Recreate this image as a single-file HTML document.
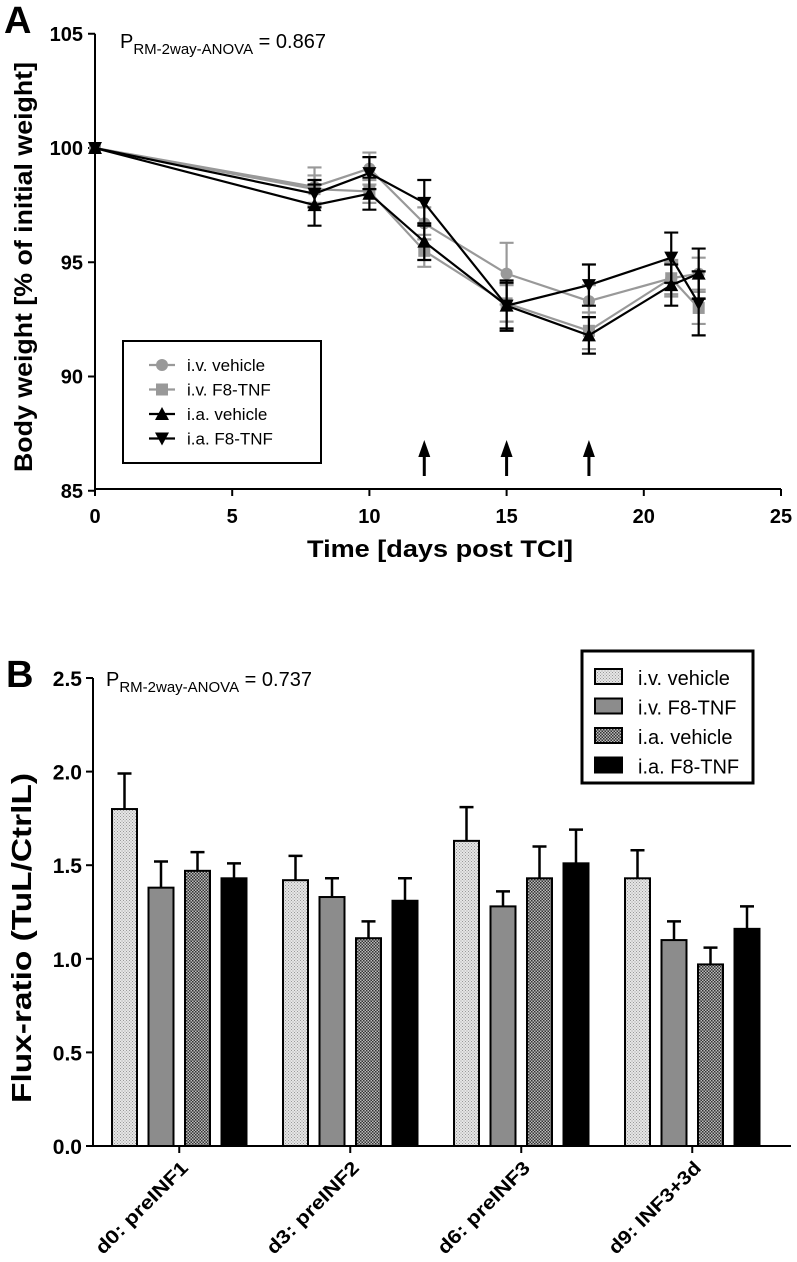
<!DOCTYPE html>
<html><head><meta charset="utf-8"><style>
body{margin:0;background:#fff}
svg{display:block;font-family:"Liberation Sans",Arial,sans-serif}
</style></head><body>
<svg id="s" width="797" height="1262" viewBox="0 0 797 1262" xmlns="http://www.w3.org/2000/svg">
<defs>
<pattern id="pLight" width="3" height="3" patternUnits="userSpaceOnUse"><rect width="3" height="3" fill="#e6e6e6"/><rect width="1" height="1" fill="#999"/><rect x="1.5" y="1.5" width="1" height="1" fill="#999"/></pattern>
<pattern id="pDark" width="3" height="3" patternUnits="userSpaceOnUse"><rect width="3" height="3" fill="#bbb"/><rect width="1.5" height="1.5" fill="#333"/><rect x="1.5" y="1.5" width="1.5" height="1.5" fill="#333"/></pattern>
</defs>
<text x="4" y="33" font-size="38" font-weight="bold">A</text>
<text x="6" y="687" font-size="38" font-weight="bold">B</text>
<text x="120" y="48" font-size="20">P<tspan font-size="15" dy="6">RM-2way-ANOVA</tspan><tspan dy="-6"> = 0.867</tspan></text>
<text x="106" y="686" font-size="20">P<tspan font-size="15" dy="6">RM-2way-ANOVA</tspan><tspan dy="-6"> = 0.737</tspan></text>
<g id="A"></g><g id="B"></g>
</svg>
<script>
// Panel A data
const daysA = [0, 8, 10, 12, 15, 18, 21, 22];
const ivVehicle = [100, 98.3, 99.1, 96.7, 94.5, 93.3, 94.3, 94.5];
const ivVehicleErr = [0, 0.85, 0.7, 0.7, 1.35, 0.7, 0.8, 0.7];
const ivF8 = [100, 98.2, 98.1, 95.5, 93.2, 92.0, 94.3, 93.0];
const ivF8Err = [0, 0.6, 0.5, 0.7, 0.8, 0.8, 0.7, 0.7];
const iaVehicle = [100, 97.5, 98.0, 95.9, 93.1, 91.8, 94.0, 94.5];
const iaVehicleErr = [0, 0.9, 0.7, 0.8, 1.0, 0.8, 0.9, 1.1];
const iaF8 = [100, 98.0, 98.9, 97.6, 93.1, 94.0, 95.2, 93.2];
const iaF8Err = [0, 0.6, 0.7, 1.0, 1.1, 0.9, 1.1, 1.4];
const xTicksA = [0, 5, 10, 15, 20, 25];
const yTicksA = [85, 90, 95, 100, 105];
const arrowDays = [12, 15, 18];
// Panel B data
const groupsB = ["d0: preINF1", "d3: preINF2", "d6: preINF3", "d9: INF3+3d"];
const barIvVehicle = [1.80, 1.42, 1.63, 1.43];
const barIvVehicleErr = [0.19, 0.13, 0.18, 0.15];
const barIvF8 = [1.38, 1.33, 1.28, 1.10];
const barIvF8Err = [0.14, 0.10, 0.08, 0.10];
const barIaVehicle = [1.47, 1.11, 1.43, 0.97];
const barIaVehicleErr = [0.10, 0.09, 0.17, 0.09];
const barIaF8 = [1.43, 1.31, 1.51, 1.16];
const barIaF8Err = [0.08, 0.12, 0.18, 0.12];
const yTicksB = ["0.0", "0.5", "1.0", "1.5", "2.0", "2.5"];

const NS = "http://www.w3.org/2000/svg";
function mk(parent, tag, attrs, text) {
  const e = document.createElementNS(NS, tag);
  for (const k in attrs) e.setAttribute(k, attrs[k]);
  if (text !== undefined) e.textContent = text;
  parent.appendChild(e);
  return e;
}
// ---------- Panel A ----------
const A = document.getElementById("A");
const xA = d => 95 + d * 27.44;
const yA = v => 148 + (100 - v) * 22.85;
let ax = mk(A, "line", {x1: 95, y1: yA(105), x2: 95, y2: 489, stroke: "#000", "stroke-width": 2});


ax = mk(A, "line", {x1: 94, y1: 489, x2: xA(25), y2: 489, stroke: "#000", "stroke-width": 2});


yTicksA.forEach(v => {
  mk(A, "line", {x1: 88, y1: yA(v), x2: 95, y2: yA(v), stroke: "#000", "stroke-width": 2});
  const t = mk(A, "text", {x: 83, y: yA(v) + 7, "font-size": 20, "font-weight": "bold", "text-anchor": "end"}, v);
  
  
});
xTicksA.forEach(v => {
  mk(A, "line", {x1: xA(v), y1: 489, x2: xA(v), y2: 496, stroke: "#000", "stroke-width": 2});
  const t = mk(A, "text", {x: xA(v), y: 523, "font-size": 20, "font-weight": "bold", "text-anchor": "middle"}, v);
  
  
});
let t = mk(A, "text", {x: 307, y: 557, "font-size": 24, "font-weight": "bold", textLength: 266, lengthAdjust: "spacingAndGlyphs"}, "Time [days post TCI]");


t = mk(A, "text", {x: 0, y: 0, "font-size": 25, "font-weight": "bold", "text-anchor": "middle", textLength: 410, lengthAdjust: "spacingAndGlyphs", transform: "translate(32,267) rotate(-90)"}, "Body weight [% of initial weight]");


arrowDays.forEach(d => {
  const g = mk(A, "g", {});
  
  
  mk(g, "line", {x1: xA(d), y1: 476, x2: xA(d), y2: 452, stroke: "#000", "stroke-width": 3});
  mk(g, "polygon", {points: `${xA(d)-6},457 ${xA(d)+6},457 ${xA(d)},440`, fill: "#000"});
});
function marker(g, type, x, y, c) {
  if (type === "circle") mk(g, "circle", {cx: x, cy: y, r: 6, fill: c});
  else if (type === "square") mk(g, "rect", {x: x - 6, y: y - 6, width: 12, height: 12, fill: c});
  else if (type === "up") mk(g, "polygon", {points: `${x-7},${y+6} ${x+7},${y+6} ${x},${y-7}`, fill: c});
  else mk(g, "polygon", {points: `${x-7},${y-6} ${x+7},${y-6} ${x},${y+7}`, fill: c});
}
const seriesA = [
  {name: "iv-vehicle", vals: ivVehicle, err: ivVehicleErr, c: "#999", m: "circle", label: "i.v. vehicle"},
  {name: "iv-f8-tnf", vals: ivF8, err: ivF8Err, c: "#999", m: "square", label: "i.v. F8-TNF"},
  {name: "ia-vehicle", vals: iaVehicle, err: iaVehicleErr, c: "#000", m: "up", label: "i.a. vehicle"},
  {name: "ia-f8-tnf", vals: iaF8, err: iaF8Err, c: "#000", m: "down", label: "i.a. F8-TNF"}
];
seriesA.forEach(s => {
  const g = mk(A, "g", {});
  
  
  daysA.forEach((d, i) => {
    if (!s.err[i]) return;
    const x = xA(d), y1 = yA(s.vals[i] + s.err[i]), y2 = yA(s.vals[i] - s.err[i]);
    mk(g, "path", {d: `M${x},${y1}V${y2}M${x-7},${y1}H${x+7}M${x-7},${y2}H${x+7}`, stroke: s.c, "stroke-width": 2.2, fill: "none"});
  });
  mk(g, "polyline", {points: daysA.map((d, i) => xA(d) + "," + yA(s.vals[i])).join(" "), stroke: s.c, "stroke-width": 2.2, fill: "none"});
  daysA.forEach((d, i) => marker(g, s.m, xA(d), yA(s.vals[i]), s.c));
});
const legA = mk(A, "g", {});


mk(legA, "rect", {x: 123, y: 341, width: 198, height: 122, fill: "#fff", stroke: "#000", "stroke-width": 2});
seriesA.forEach((s, i) => {
  const y = 365 + i * 24.5;
  const g = mk(legA, "g", {});
  
  
  mk(g, "line", {x1: 149, y1: y, x2: 175, y2: y, stroke: s.c, "stroke-width": 2.2});
  marker(g, s.m, 162, y, s.c);
  mk(g, "text", {x: 187, y: y + 6, "font-size": 17}, s.label);
});
// ---------- Panel B ----------
const B = document.getElementById("B");
const yB = v => 1146 - v * 187.2;
const xB = (gi, bi) => 112 + gi * 171 + bi * 36.5;
ax = mk(B, "line", {x1: 93, y1: 678, x2: 93, y2: 1146, stroke: "#000", "stroke-width": 2});


ax = mk(B, "line", {x1: 92, y1: 1146, x2: 791, y2: 1146, stroke: "#000", "stroke-width": 2});


yTicksB.forEach(v => {
  mk(B, "line", {x1: 86, y1: yB(+v), x2: 93, y2: yB(+v), stroke: "#000", "stroke-width": 2});
  const t = mk(B, "text", {x: 82, y: yB(+v) + 8, "font-size": 21, "font-weight": "bold", "text-anchor": "end"}, v);
  
  
});
t = mk(B, "text", {x: 0, y: 0, "font-size": 28, "font-weight": "bold", "text-anchor": "middle", textLength: 330, lengthAdjust: "spacingAndGlyphs", transform: "translate(31,938) rotate(-90)"}, "Flux-ratio (TuL/CtrlL)");


const seriesB = [
  {name: "iv-vehicle", vals: barIvVehicle, err: barIvVehicleErr, fill: "url(#pLight)", label: "i.v. vehicle"},
  {name: "iv-f8-tnf", vals: barIvF8, err: barIvF8Err, fill: "#8c8c8c", label: "i.v. F8-TNF"},
  {name: "ia-vehicle", vals: barIaVehicle, err: barIaVehicleErr, fill: "url(#pDark)", label: "i.a. vehicle"},
  {name: "ia-f8-tnf", vals: barIaF8, err: barIaF8Err, fill: "#000", label: "i.a. F8-TNF"}
];
groupsB.forEach((gname, gi) => {
  const cx = xB(gi, 1.5) + 12.5;
  mk(B, "line", {x1: cx, y1: 1146, x2: cx, y2: 1153, stroke: "#000", "stroke-width": 2});
  const t = mk(B, "text", {x: 0, y: 0, "font-size": 19, "font-weight": "bold", "text-anchor": "end", textLength: 122, lengthAdjust: "spacingAndGlyphs", transform: `translate(${cx+10},1169) rotate(-45)`}, gname);
  
  
  seriesB.forEach((s, bi) => {
    const x = xB(gi, bi), v = s.vals[gi];
    const g = mk(B, "g", {});
    
    
    const xc = x + 12.5, ye = yB(v + s.err[gi]);
    mk(g, "path", {d: `M${xc},${yB(v)}V${ye}M${xc-7},${ye}H${xc+7}`, stroke: "#000", "stroke-width": 2.5});
    mk(g, "rect", {x: x, y: yB(v), width: 25, height: 1146 - yB(v), fill: s.fill, stroke: "#000", "stroke-width": 2});
  });
});
const legB = mk(B, "g", {});


mk(legB, "rect", {x: 582, y: 651, width: 171, height: 132, fill: "#fff", stroke: "#000", "stroke-width": 3});
seriesB.forEach((s, i) => {
  const y = 677 + i * 29.5;
  const g = mk(legB, "g", {});
  
  
  mk(g, "rect", {x: 595, y: y - 8, width: 27, height: 15, fill: s.fill, stroke: "#000", "stroke-width": 2});
  mk(g, "text", {x: 638, y: y + 8, "font-size": 20}, s.label);
});
</script>
</body></html>
